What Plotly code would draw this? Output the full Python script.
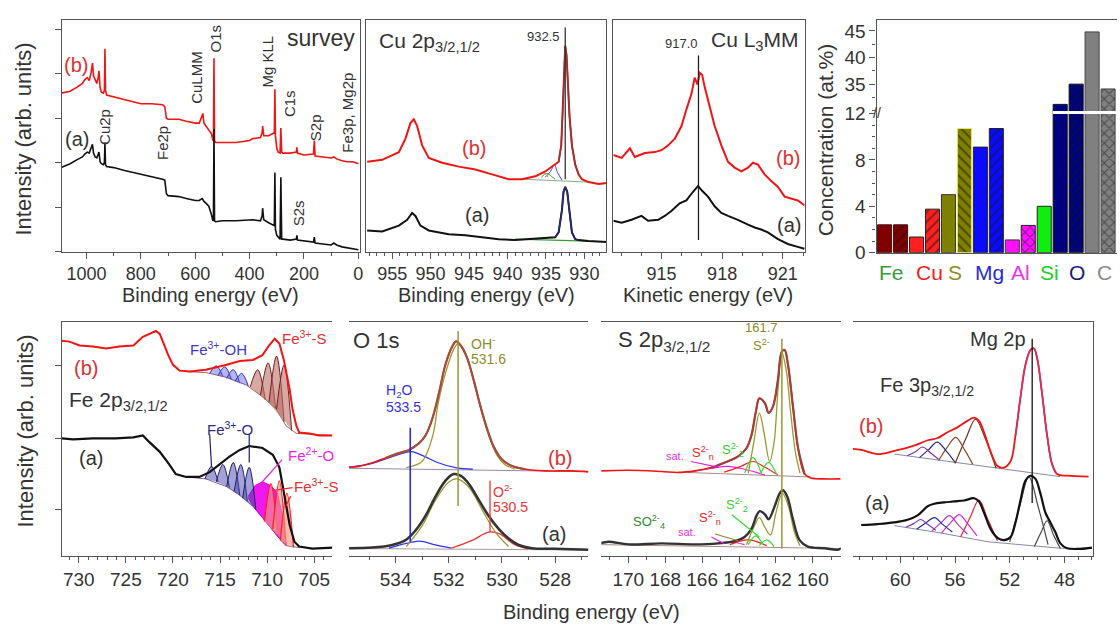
import plotly.graph_objects as go

FONT = "Liberation Sans, Arial, sans-serif"
W, H = 1120, 633
RED = "#f01414"
BLK = "#111111"
TXT = "#333333"

# ---------------- survey ----------------
sv_x = [1093,1060,1036,1015,1006,997,990,983,978,974,968,962,957,954,950,945,938,934,932,930,926,900,860,828,800,760,720,712,706,700,660,633,600,585,575,572,568,560,550,540,535,533,531,529,525,500,450,400,388,360,354,352,348,330,315,309,307,305,300,295,288,285,282,278,250,228,226,224,200,165,162,159,130,100,90,80,60,40,20,0]
sv_b = [164,166,170,174,178,180,177,185,195,182,178,174,180,187,170,165,164,167,210,167,162,160,157,155,153,153,152,150,138,137,137,135,133,133,142,143,133,130,127,122,115,117,200,115,113,113,113,115,117,118,123,130,120,120,122,123,168,120,107,103,102,128,103,102,102,103,108,102,100,101,115,99,98,97,98,96,94,93,93,91]
sv_a = [87,91,95,98,101,103,102,107,111,102,98,97,100,103,93,91,90,92,113,90,88,87,84,82,80,78,75,74,60,58,57,55,53,53,55,54,52,50,47,38,32,33,127,32,31,32,32,33,33,32,37,45,33,30,28,27,82,23,17,15,13,77,13,13,12,13,17,12,11,10,15,9,8,7,9,7,5,4,3,2]

# ---------------- Cu 2p ----------------
cu_b_x = [958.25,956.3,954.13,953.27,952.62,952.19,951.75,951.1,950.24,948.5,946.34,944.18,942.0,939.85,938.12,936.39,935.09,934.44,933.79,933.35,933.01,932.79,932.62,932.49,932.32,932.14,931.93,931.62,931.19,930.76,930.32,929.46,928.16,927.08]
cu_b_y = [93,95,103,117,133,137,130,110,97,92,88,85,80,75,75,78,83,87,91,93,110,150,197,213,203,173,140,110,90,80,75,72,70,71]
cu_a_x = [958.25,956.3,954.13,953.05,952.4,951.97,951.32,950.24,947.64,945.48,943.31,941.15,938.98,936.82,934.65,933.79,933.35,932.92,932.71,932.49,932.23,931.97,931.62,931.19,930.76,929.46,927.08]
cu_a_y = [22,21,27,33,40,37,27,22,18,17,15,13,12,13,14,15,20,43,62,67,62,43,20,13,12,11,10]
cu_b_sat_x = [[935.1,934.4,933.9,933.5,932.9],[935.6,934.9,934.3,933.8],[936.1,935.4,934.7]]
cu_b_sat_y = [[77,83,90,82,74],[77,81,78,75],[78,82,77]]
cu_b_sat_c = ["#3b3bd0", "#33aa33", "#dd8833"]
cu_b_base_x = [938.1, 929.5]
cu_b_base_y = [75, 72]
cu_a_base_x = [939.0, 929.5]
cu_a_base_y = [13, 11]
cu_line_x = 932.49

# ---------------- Cu LMM ----------------
lmm_b_x = [912.62,913.03,913.44,913.68,914.18,914.67,915.0,915.33,915.66,915.99,916.23,916.48,916.64,916.78,916.89,917.01,917.14,917.38,917.63,917.96,918.29,918.62,918.95,919.28,919.52,919.77,920.1,920.43,920.76,921.09,921.41,921.74,922.07]
lmm_b_y = [100,97,107,98,102,103,105,110,117,130,147,163,180,173,185,183,170,150,130,110,93,87,83,87,92,90,80,73,67,57,55,53,48]
lmm_a_x = [912.62,913.03,913.52,914.01,914.34,914.84,915.16,915.49,915.9,916.23,916.56,916.81,917.01,917.30,917.63,917.96,918.29,918.78,919.28,919.61,919.93,920.26,920.76,921.25,921.74,922.07]
lmm_a_y = [32,30,33,37,32,33,37,42,50,53,62,68,63,57,47,40,37,33,28,25,23,20,13,8,5,3]
lmm_line_x = 916.83

# ---------------- concentrations ----------------
elements = ["Fe", "Cu", "S", "Mg", "Al", "Si", "O", "C"]
element_colors = ["#3a9a3a", "#ee2222", "#8c8c2a", "#2a2ad0", "#ee33ee", "#22cc22", "#1a1a80", "#8a8a8a"]
bar_vals = [2.4, 2.4, 1.35, 3.75, 5.0, 10.7, 9.1, 10.7, 1.1, 2.35, 4.0, 31.2, 35.0, 44.8, 34.1]
bar_colors = ["#800000", "#800000", "#ff2020", "#ff2020", "#808000", "#808000", "#0a0aff", "#0a0aff",
              "#ff10ff", "#ff10ff", "#10ee10", "#000080", "#000080", "#808080", "#808080"]
bar_hatch = ["", "/", "", "/", "", "\\", "", "/", "", "x", "", "", "/", "", "x"]
bar_edges = ["#401010", "#401010", "#222", "#222", "#333", "#e8e860", "#222", "#222",
             "#333", "#222", "#222", "#111", "#111", "#444", "#444"]
label_pos = [0.44, 2.8, 4.44, 6.56, 8.5, 10.35, 12.06, 13.8]

# ---------------- Fe 2p ----------------
fe_b_x = [731.8,731.0,729.9,728.5,727.1,725.7,724.2,723.2,722.5,721.8,721.4,721.1,720.5,720.0,719.3,718.2,716.5,714.3,712.9,711.5,710.5,709.8,709.2,708.7,708.2,707.6,707.3,706.9,706.6,705.5,704.5,703.0]
fe_b_y = [223,222,218,217,215,217,218,227,230,233,230,222,208,198,192,191,193,198,202,203,208,218,225,220,202,172,152,135,128,127,125,125]
fe_a_x = [731.8,730.6,728.5,726.1,724.2,723.2,722.5,721.4,720.4,719.7,718.6,717.2,716.1,715.1,714.0,712.9,711.9,710.5,709.4,708.7,708.2,707.6,707.1,706.6,705.2,703.0]
fe_a_y = [122,121,122,122,123,125,118,108,95,85,82,82,87,95,103,110,114,112,105,92,65,32,15,10,8,9]
fe_b_base_x = [718.6,716.5,714.3,712.2,710.5,709.0,708.0,706.9,703.0]
fe_b_base_y = [191,190,185,177,165,152,135,127,125]
fe_a_base_x = [718.6,716.5,714.3,712.9,711.5,710.1,709.0,708.0,706.6]
fe_a_base_y = [82,80,72,63,52,35,22,11,9]
fe_b_oh_x = [[716.1,715.4,714.7],[715.2,714.5,713.8],[714.3,713.6,712.9],[713.4,712.7,712.0]]
fe_b_oh_y = [[189,197,186],[187,196,183],[184,193,179],[181,189,176]]
fe_b_s_x = [[711.8,711.0,710.2],[710.7,709.9,709.1],[709.8,709.0,708.2],[709.0,708.2,707.4]]
fe_b_s_y = [[175,193,162],[167,200,153],[159,207,139],[152,198,130]]
fe_a_o_x = [[716.6,715.9,715.2],[715.4,714.7,714.0],[714.3,713.6,712.9],[713.5,712.8,712.1],[712.6,711.9,711.2]]
fe_a_o_y = [[80,93,77],[77,95,71],[72,97,63],[67,95,57],[60,92,48]]
fe_a_fe2_x = [712.0,711.3,710.5,709.6,708.9,708.3,708.0,708.3,709.0,709.8,710.5,711.2,712.0]
fe_a_fe2_y = [62,73,77,73,65,38,12,14,22,32,40,48,60]
fe_a_s_x = [[710.3,709.6,708.9],[709.4,708.7,708.0],[708.6,707.9,707.2]]
fe_a_s_y = [[36,75,22],[28,78,11],[16,65,9]]

# ---------------- O 1s ----------------
o_b_x = [535.75,535.375,534.875,534.375,533.875,533.5,533.125,532.875,532.625,532.375,532.125,531.875,531.725,531.56,531.31,531.06,530.81,530.56,530.31,530.0,529.625,529.125,528.375,527.375,526.75]
o_b_y = [92.3,93,96.7,101.7,106.7,110,116.7,125,141.7,168.3,198.3,216.7,222.3,218.3,205,181.7,155,131.7,113.3,100,93.3,90,88.3,88.3,87.3]
o_a_x = [535.75,534.875,534.125,533.625,533.25,532.875,532.5,532.125,531.81,531.56,531.25,530.875,530.5,530.125,529.75,529.375,528.875,528.0,526.75]
o_a_y = [8.3,9,11.7,16.7,26.7,41.7,61.7,78.3,85,83.3,75,58.3,41.7,28.3,18.3,11.7,8.3,7.7,6.7]
o_b_oh_x = [533.6,533.0,532.6,532.4,532.1,531.8,531.65,531.4,531.1,530.8,530.5,530.2,529.9,529.5]
o_b_oh_y = [91.7,98.3,125,158,191.7,215,220,212,185,155,125,105,95,90]
o_b_h2o_x = [535.75,534.875,534.1,533.4,532.9,532.4,531.75,531.1]
o_b_h2o_y = [92,96,103.3,108.3,103,96.7,91.7,90]
o_a_oh_x = [533.6,533.0,532.5,532.0,531.7,531.25,530.75,530.25,529.75]
o_a_oh_y = [10,31.7,58,76.7,80,71.7,48.3,25,10]
o_a_h2o_x = [534.25,533.6,533.1,532.5,531.9]
o_a_h2o_y = [8.3,13.3,15.7,11.7,8.3]
o_a_o2_x = [531.9,531.1,530.5,530.1,529.5,529.0]
o_a_o2_y = [8.3,16.7,25,23.3,11.7,7.7]

# ---------------- S 2p ----------------
s_b_x = [171.53,170,168.2,167.3,166.4,165.5,164.8,164.05,163.6,163.33,163.1,162.9,162.6,162.4,162.16,161.9,161.68,161.53,161.35,161.08,160.8,160.45,160.1,159.4,158.5]
s_b_y = [88.3,89,87.7,86.7,88.3,91.7,96.7,103.3,111.7,125,148.3,163.3,158.3,148.3,155,181.7,211.7,213.3,198.3,155,111.7,85,81,80,80]
s_a_x = [171.53,171.08,170,168.2,166.4,165.14,164.23,163.7,163.33,163.06,162.88,162.6,162.4,162.07,161.8,161.62,161.39,161.08,160.72,160.27,159.37,158.65,158.47]
s_a_y = [13.3,15,12.3,13.3,12.3,13.3,15.7,20,28.3,41.7,46.7,43.3,38.3,51.7,65,68.3,61.7,38.3,16.7,10,8.3,6.7,8.3]
s_b_s2_x = [163.5,163.2,162.9,162.65,162.34,162.1,161.9,161.68,161.45,161.2,160.95,160.7]
s_b_s2_y = [86,118,148,128,98,118,170,211,193,148,108,86]
s_b_s22_x = [[163.7,163.24,162.8],[162.85,162.4,161.95]]
s_b_s22_y = [[86,102,86],[85,97,84]]
s_b_sn_x = [164.8,163.9,163.24,162.6,161.9]
s_b_sn_y = [87,93,98,92,84]
s_b_sat_x = [166.4,165.5,164.6,163.7,162.6]
s_b_sat_y = [88,91,93,90,84]
s_a_s2_x = [163.6,163.2,162.9,162.6,162.3,162.0,161.65,161.3,161.0,160.7]
s_a_s2_y = [12,30,40,30,22,45,65,50,25,11]
s_a_s22_x = [[163.5,163.1,162.7],[162.9,162.5,162.1]]
s_a_s22_y = [[12,21,12],[11,17,10]]
s_a_sn_x = [164.5,163.5,162.5]
s_a_sn_y = [12,17,11]
s_a_sat_x = [165.5,164.6,163.7]
s_a_sat_y = [12,15,12]
s_line_x = 161.68

# ---------------- Mg 2p / Fe 3p ----------------
mg_b_x = [63.47,62.86,61.65,60.44,59.47,58.74,58.0,57.28,56.55,55.83,55.1,54.6,54.25,53.88,53.4,52.9,52.43,51.94,51.58,51.21,50.85,50.49,50.24,50.0,49.64,49.27,48.9,48.54,47.8,46.24]
mg_b_y = [111,110,105.7,109,112.3,115.7,120,122.3,128.3,133.3,140,143.3,140,128.3,108.3,93.3,91.7,98.3,125,165,198.3,213.3,215,205,168.3,125,95,85,83.3,82.3]
mg_a_x = [62.86,61.65,60.44,59.47,58.74,58.0,57.52,56.8,56.07,55.34,54.6,54.25,53.88,53.4,52.9,52.43,51.94,51.58,51.21,50.85,50.49,50.12,49.76,49.39,49.03,48.67,48.3,47.82,46.84,45.99]
mg_a_y = [32.3,33.3,35,37.7,42.3,51.7,54.3,55.7,56.7,57.7,60,56.7,45,28.3,19,16.7,20,35,58.3,78.3,83.3,80,65,45,35,25,13.3,8.3,7.7,9]
mg_b_base_x = [60.44,57.0,53.16,50.5,48.3]
mg_b_base_y = [105.7,99,91,86.5,82.3]
mg_b_fe_x = [[56.0,55.2,54.5,53.8,53.0],[57.2,56.6,55.95,55.3,54.7],[58.6,57.95,57.3,56.65,56.0],[59.5,58.9,58.37,57.8,57.2]]
mg_b_fe_y = [[96,122,141.7,122,91],[99,112,123,110,95],[102,110,118,109,97],[104,108,113,107,100]]
mg_b_fe_c = ["#6b3020", "#8b4a2a", "#2a2a80", "#7a3aa0"]
mg_a_base_x = [60.44,57.0,53.6,50.5,48.3,46.0]
mg_a_base_y = [31.7,24,15,11,8.3,8]
mg_a_mg_x = [[52.0,51.3,50.6,49.9,49.2],[50.2,49.7,49.27,48.8,48.3]]
mg_a_mg_y = [[15,50,82,50,12],[10,25,36.7,22,8]]
mg_a_fe_x = [[55.6,54.9,54.25,53.6,52.9],[57.0,56.3,55.7,55.1,54.4],[57.7,57.0,56.4,55.8,55.1],[58.8,58.1,57.5,56.9,56.2],[59.6,59.0,58.5,58.0,57.4]]
mg_a_fe_y = [[20,40,58,38,16],[24,35,43,34,21],[26,35,42,33,23],[28,35,40,33,25],[30,34,38,33,27]]
mg_a_fe_c = ["#ee2244", "#dd22dd", "#bb33cc", "#2a2a90", "#7a3ab0"]
mg_line_x = 50.36

fig = go.Figure()


def ax(n):
    return ("x" if n == 1 else f"x{n}", "y" if n == 1 else f"y{n}")


def add_line(n, x, y, color, width=2.0, shape="linear", fill=None, fillcolor=None):
    xa, ya = ax(n)
    fig.add_trace(go.Scatter(x=x, y=y, xaxis=xa, yaxis=ya, mode="lines",
                             line=dict(color=color, width=width, shape=shape),
                             fill=fill, fillcolor=fillcolor, hoverinfo="skip", showlegend=False))


def add_peaks(n, xs, ys, lc, fc, width=1.0):
    for x, y in zip(xs, ys):
        add_line(n, x, y, lc, width, "spline", "toself" if fc else None, fc)


annots = []


def note(n, x, y, text, color=TXT, size=16, angle=0, xanchor="center"):
    xa, ya = ax(n)
    annots.append(dict(xref=xa, yref=ya, x=x, y=y, text=text, showarrow=False, textangle=angle,
                       xanchor=xanchor, yanchor="middle", font=dict(family=FONT, size=size, color=color)))


def pnote(px_, py_, text, size=20, angle=0, color=TXT):
    annots.append(dict(xref="paper", yref="paper", x=px_ / W, y=1 - py_ / H, text=text, showarrow=False,
                       textangle=angle, xanchor="center", yanchor="middle",
                       font=dict(family=FONT, size=size, color=color)))


# survey
add_line(1, sv_x, sv_b, RED, 1.6)
add_line(1, sv_x, sv_a, BLK, 1.6)
for t, x, y, c, s, a in [("(b)", 1038, 193, "#e03030", 20, 0), ("(a)", 1036, 117, TXT, 20, 0),
                          ("Cu2p", 932, 129, TXT, 15, -90), ("Fe2p", 720, 112, TXT, 15, -90),
                          ("CuLMM", 593, 180, TXT, 15, -90), ("O1s", 529, 220, TXT, 15, -90),
                          ("Mg KLL", 335, 197, TXT, 15, -90), ("C1s", 254, 153, TXT, 15, -90),
                          ("S2p", 155, 128, TXT, 15, -90), ("Fe3p, Mg2p", 41, 144, TXT, 15, -90),
                          ("S2s", 221, 40, TXT, 15, -90)]:
    note(1, x, y, t, c, s, a)
note(1, 5, 221, "survey", TXT, 23, 0, "right")

# Cu 2p
add_line(2, cu_b_base_x, cu_b_base_y, "#8aa88a", 1)
add_line(2, cu_a_base_x, cu_a_base_y, "#3a9a3a", 1.2)
for x, y, c in zip(cu_b_sat_x, cu_b_sat_y, cu_b_sat_c):
    add_line(2, x, y, c, 1.0, "spline")
add_line(2, cu_b_x, cu_b_y, RED, 2)
add_line(2, cu_a_x, cu_a_y, BLK, 2)
add_line(2, cu_a_x[15:25], cu_a_y[15:25], "#2a2a7a", 1.5)
add_line(2, cu_b_x[19:30], cu_b_y[19:30], "#8b3a3a", 1.5)
add_line(2, [cu_line_x, cu_line_x], [75, 232], "#333", 1.3)
note(2, 957.0, 217, "Cu 2p<sub>3/2,1/2</sub>", TXT, 21, 0, "left")
note(2, 932.9, 223, "932.5", TXT, 13, 0, "right")
note(2, 944.3, 107, "(b)", "#e03030", 20)
note(2, 944.0, 38, "(a)", TXT, 20)

# Cu LMM
add_line(3, lmm_b_x, lmm_b_y, RED, 2)
add_line(3, lmm_a_x, lmm_a_y, BLK, 2)
add_line(3, [lmm_line_x, lmm_line_x], [12, 203], "#222", 1.3)
note(3, 916.0, 215, "917.0", TXT, 13)
note(3, 921.9, 218, "Cu L<sub>3</sub>MM", TXT, 21, 0, "right")
note(3, 921.25, 97, "(b)", "#e03030", 20)
note(3, 921.3, 28, "(a)", TXT, 20)

# bars (lower and upper parts of a broken axis); one trace per bar so each hatch keeps a dark pen
for xa, ya in [("x4", "y4"), ("x5", "y5")]:
    for i, (v, c, h, e) in enumerate(zip(bar_vals, bar_colors, bar_hatch, bar_edges)):
        pat = dict(shape=h, fgcolor="#151515", bgcolor=c, size=7, solidity=0.28,
                   fillmode="overlay") if h else None
        mk = dict(color=c, line=dict(color=e, width=1))
        if pat:
            mk["pattern"] = pat
        fig.add_trace(go.Bar(x=[i], y=[v], xaxis=xa, yaxis=ya, width=0.88, marker=mk,
                             hoverinfo="skip", showlegend=False))
for e, c, p in zip(elements, element_colors, label_pos):
    annots.append(dict(xref="x4", yref="paper", x=p, y=1 - 271 / H, text=e, showarrow=False,
                       font=dict(family=FONT, size=21, color=c), xanchor="center", yanchor="middle"))
annots.append(dict(xref="x4", yref="y4", x=-0.5, y=12, text="//", showarrow=False,
                   font=dict(family=FONT, size=14, color="#333"), xanchor="center", yanchor="middle"))

# Fe 2p
add_line(6, fe_b_base_x, fe_b_base_y, "#aa6666", 1)
add_line(6, fe_a_base_x, fe_a_base_y, "#886688", 1)
add_peaks(6, fe_b_oh_x, fe_b_oh_y, "#3333bb", "rgba(90,90,220,0.45)")
add_peaks(6, fe_b_s_x, fe_b_s_y, "#6b2020", "rgba(190,110,100,0.6)")
add_line(6, fe_a_fe2_x, fe_a_fe2_y, "#cc00cc", 1, "linear", "toself", "rgba(235,0,235,0.9)")
add_peaks(6, fe_a_o_x, fe_a_o_y, "#1e1e6e", "rgba(70,70,170,0.5)")
add_peaks(6, fe_a_s_x, fe_a_s_y, "#ff2020", "rgba(245,150,130,0.65)", 1.3)
add_line(6, fe_b_x, fe_b_y, RED, 2)
add_line(6, fe_a_x, fe_a_y, BLK, 2.2)
for (x0, y0, x1, y1, c) in [(716.1, 126, 715.9, 92, "#1e1e6e"), (711.9, 126, 711.9, 97, "#1e1e6e"),
                            (708.4, 100, 710.6, 76, "#dd22dd"), (707.3, 71, 709.4, 68, "#ff2020"),
                            (707.5, 62, 708.0, 52, "#ff2020")]:
    add_line(6, [x0, x1], [y0, y1], c, 1.2)
note(6, 729.2, 195, "(b)", "#e03030", 20)
note(6, 731.2, 161, "Fe 2p<sub>3/2,1/2</sub>", TXT, 21, 0, "left")
note(6, 728.7, 102, "(a)", TXT, 20)
note(6, 715.2, 215, "Fe<sup>3+</sup>-OH", "#3a3acc", 15)
note(6, 706.0, 226, "Fe<sup>3+</sup>-S", "#e03030", 15)
note(6, 713.9, 132, "Fe<sup>3+</sup>-O", "#2a2a80", 15)
note(6, 705.3, 105, "Fe<sup>2+</sup>-O", "#ee22ee", 15)
note(6, 704.8, 73, "Fe<sup>3+</sup>-S", "#e03030", 15)

# O 1s
add_line(7, [535.75, 526.75], [91, 87.5], "#9a88aa", 1)
add_line(7, [535.75, 526.75], [8, 6.5], "#aa9999", 1)
add_line(7, o_b_h2o_x, o_b_h2o_y, "#3333ee", 1.3, "spline")
add_line(7, o_b_oh_x, o_b_oh_y, "#9a9a30", 1.3, "spline")
add_line(7, o_a_h2o_x, o_a_h2o_y, "#3333ee", 1.3, "spline")
add_line(7, o_a_o2_x, o_a_o2_y, "#ee3333", 1.3, "spline")
add_line(7, o_a_oh_x, o_a_oh_y, "#9a9a30", 1.3, "spline")
add_line(7, o_b_x, o_b_y, RED, 1.6, "spline")
add_line(7, o_b_x[3:22], o_b_y[3:22], "#a0503a", 2.2, "spline")
add_line(7, o_a_x, o_a_y, "#333", 2.6, "spline")
add_line(7, [531.65, 531.65], [52, 233], "#9a9a30", 1.5)
add_line(7, [533.45, 533.45], [15, 133], "#2222ee", 1.5)
add_line(7, [530.45, 530.45], [25, 78], "#ee3333", 1.3)
note(7, 535.67, 223, "O 1s", TXT, 22, 0, "left")
note(7, 531.25, 221, "OH<sup>-</sup>", "#8c8c2a", 14, 0, "left")
note(7, 531.25, 204, "531.6", "#8c8c2a", 14, 0, "left")
note(7, 534.44, 171, "H<sub>2</sub>O", "#3333dd", 14, 0, "left")
note(7, 534.44, 154, "533.5", "#3333dd", 14, 0, "left")
note(7, 527.8, 102, "(b)", "#e03030", 20)
note(7, 530.43, 68, "O<sup>2-</sup>", "#ee3333", 14, 0, "left")
note(7, 530.43, 51, "530.5", "#ee3333", 14, 0, "left")
note(7, 528.03, 23, "(a)", TXT, 20)

# S 2p
add_line(8, [167.3, 160.1], [87, 82], "#aa8888", 1)
add_line(8, [171.5, 158.5], [12, 8], "#aa8888", 1)
add_line(8, s_b_sat_x, s_b_sat_y, "#dd22dd", 1.2, "spline")
add_line(8, s_b_sn_x, s_b_sn_y, "#ee2222", 1.2, "spline")
add_peaks(8, s_b_s22_x, s_b_s22_y, "#33dd33", None, 1.2)
add_line(8, s_b_s2_x, s_b_s2_y, "#9a9a30", 1.3, "spline")
add_line(8, s_a_sat_x, s_a_sat_y, "#dd22dd", 1.2, "spline")
add_line(8, s_a_sn_x, s_a_sn_y, "#ee2222", 1.2, "spline")
add_peaks(8, s_a_s22_x, s_a_s22_y, "#33dd33", None, 1.2)
add_line(8, s_a_s2_x, s_a_s2_y, "#9a9a30", 1.3, "spline")
add_line(8, s_b_x, s_b_y, RED, 1.6, "spline")
add_line(8, s_b_x[5:22], s_b_y[5:22], "#a0403a", 2.2, "spline")
add_line(8, s_a_x, s_a_y, "#333", 2.4, "spline")
add_line(8, [s_line_x, s_line_x], [8, 225], "#9a9a30", 1.5)
for (x0, y0, x1, y1, c) in [(166.6, 98, 165.1, 92, "#dd22dd"), (164.4, 43, 162.9, 20, "#33dd33"),
                            (165.3, 23, 164.05, 16, "#8c8c2a"), (165.5, 20, 164.8, 13, "#dd22dd")]:
    add_line(8, [x0, x1], [y0, y1], c, 1.2)
note(8, 170.65, 223, "S 2p<sub>3/2,1/2</sub>", TXT, 22, 0, "left")
note(8, 162.78, 237, "161.7", "#8c8c2a", 13)
note(8, 162.76, 219, "S<sup>2-</sup>", "#8c8c2a", 13)
note(8, 164.35, 110, "S<sup>2-</sup><sub>2</sub>", "#33cc33", 13)
note(8, 165.95, 107, "S<sup>2-</sup><sub>n</sub>", "#ee2222", 13)
note(8, 167.45, 104, "sat.", "#dd33dd", 11)
note(8, 168.9, 35, "SO<sup>2-</sup><sub>4</sub>", "#2e8a2e", 13)
note(8, 165.6, 40, "S<sup>2-</sup><sub>n</sub>", "#ee2222", 13)
note(8, 164.1, 53, "S<sup>2-</sup><sub>2</sub>", "#33cc33", 13)
note(8, 166.8, 25, "sat.", "#dd33dd", 11)

# Mg 2p / Fe 3p
add_line(9, mg_b_base_x, mg_b_base_y, "#8888aa", 1)
add_line(9, mg_a_base_x, mg_a_base_y, "#8888aa", 1)
for x, y, c in zip(mg_b_fe_x, mg_b_fe_y, mg_b_fe_c):
    add_line(9, x, y, c, 1.2, "spline")
for x, y, c in zip(mg_a_fe_x, mg_a_fe_y, mg_a_fe_c):
    add_line(9, x, y, c, 1.2, "spline")
for x, y in zip(mg_a_mg_x, mg_a_mg_y):
    add_line(9, x, y, "#444", 1.2, "spline")
add_line(9, mg_b_x, mg_b_y, RED, 1.8, "spline")
add_line(9, mg_b_x[18:28], mg_b_y[18:28], "#cc3366", 1.6, "spline")
add_line(9, mg_a_x, mg_a_y, BLK, 2.2, "spline")
add_line(9, [mg_line_x, mg_line_x], [55, 225], "#111", 1.3)
note(9, 52.84, 225, "Mg 2p", TXT, 20)
note(9, 61.65, 176, "Fe 3p<sub>3/2,1/2</sub>", TXT, 20, 0, "left")
note(9, 62.17, 135, "(b)", "#e03030", 20)
note(9, 61.73, 55, "(a)", TXT, 20)

# axis titles
pnote(24, 133, "Intensity (arb. units)", 22, -90)
pnote(26, 435, "Intensity (arb. units)", 22, -90)
pnote(211, 295, "Binding energy (eV)", 20)
pnote(488, 295, "Binding energy (eV)", 20)
pnote(710, 295, "Kinetic energy (eV)", 20)
pnote(828, 134, "Concentration (at.%)", 21, -90)
pnote(593, 623, "Binding energy (eV)", 20)


def dx(a, b):
    return [a / W, b / W]


def dy(top, bottom):
    return [1 - bottom / H, 1 - top / H]


LC = "#555555"
base = dict(showgrid=False, zeroline=False, linecolor=LC, linewidth=1.3, tickcolor=LC, tickwidth=1.2,
            tickfont=dict(family=FONT, size=18, color=TXT), fixedrange=True)


def xaxis(dom, rng, anchor, dtick=None, tick0=0, minor=None, mirror=True, **kw):
    d = dict(base, domain=dom, range=rng, anchor=anchor, showline=True, mirror=mirror,
             ticks="outside", ticklen=6)
    if dtick:
        d.update(dtick=dtick, tick0=tick0)
    if minor:
        d["minor"] = dict(dtick=minor, tick0=tick0, ticks="outside", ticklen=3, tickcolor=LC)
    d.update(kw)
    return d


layout = dict(
    width=W, height=H, margin=dict(l=0, r=0, t=0, b=0), paper_bgcolor="white", plot_bgcolor="white",
    barmode="overlay", annotations=annots, showlegend=False,
    xaxis=xaxis(dx(62, 361), [1090.6, -6.2], "y", 200, 0, 100),
    yaxis=dict(base, domain=dy(10, 250), range=[0, 240], anchor="x", showline=True, mirror=True,
               ticks="outside", ticklen=6, tick0=0, dtick=46, showticklabels=False),
    xaxis2=xaxis(dx(367, 608), [958.4, 927.14], "y2", 5, 0, 1),
    yaxis2=dict(base, domain=dy(10, 250), range=[0, 240], anchor="x2", showline=True, mirror=True,
                ticks="", showticklabels=False),
    xaxis3=xaxis(dx(615, 807), [912.62, 922.09], "y3", 3, 915, 1),
    yaxis3=dict(base, domain=dy(10, 250), range=[0, 240], anchor="x3", showline=True, mirror=True,
                ticks="", showticklabels=False),
    xaxis4=dict(base, domain=dx(879, 1120), range=[-0.5, 14.56], anchor="y4", showline=True,
                ticks="", showticklabels=False),
    yaxis4=dict(base, domain=dy(107, 251), range=[0, 12], anchor="x4", showline=True, ticks="outside",
                ticklen=6, tickvals=[0, 4, 8, 12], tickfont=dict(family=FONT, size=19, color=TXT),
                minor=dict(dtick=1, tick0=0, ticks="outside", ticklen=3, tickcolor=LC)),
    xaxis5=dict(base, domain=dx(879, 1120), range=[-0.5, 14.56], anchor="y5", matches="x4", side="top",
                showline=True, ticks="", showticklabels=False),
    yaxis5=dict(base, domain=dy(10, 107), range=[29.5, 47.1], anchor="x5", showline=True, ticks="outside",
                ticklen=6, tickvals=[35, 40, 45], tickfont=dict(family=FONT, size=19, color=TXT),
                minor=dict(dtick=2.5, tick0=0, ticks="outside", ticklen=3, tickcolor=LC)),
    xaxis6=xaxis(dx(62, 333), [731.8, 703.1], "y6", 5, 0, 1, tickfont=dict(family=FONT, size=19, color=TXT)),
    yaxis6=dict(base, domain=dy(323, 565), range=[0, 242], anchor="x6", showline=True, ticks="outside",
                ticklen=6, tickvals=[48, 122, 197], showticklabels=False),
    xaxis7=xaxis(dx(350, 590), [535.75, 526.75], "y7", 2, 0, 1, tickfont=dict(family=FONT, size=19, color=TXT)),
    yaxis7=dict(base, domain=dy(323, 565), range=[0, 242], anchor="x7", visible=False),
    xaxis8=xaxis(dx(603, 843), [171.46, 158.49], "y8", 2, 0, 1, tickfont=dict(family=FONT, size=19, color=TXT)),
    yaxis8=dict(base, domain=dy(323, 565), range=[0, 242], anchor="x8", visible=False),
    xaxis9=xaxis(dx(855, 1096), [63.48, 45.91], "y9", 4, 0, 1, tickfont=dict(family=FONT, size=19, color=TXT)),
    yaxis9=dict(base, domain=dy(323, 565), range=[0, 242], anchor="x9", side="right", showline=True,
                ticks="", showticklabels=False),
    shapes=[dict(type="line", xref="x4", yref="paper", x0=10.55, x1=14.7, y0=1 - 106 / H, y1=1 - 106 / H,
                 line=dict(color="white", width=3), layer="above")],
)
fig.update_layout(**layout)
fig.write_html("out.html", config={"displayModeBar": False},
               post_script="document.body.style.margin='0';document.body.style.overflow='hidden';")
